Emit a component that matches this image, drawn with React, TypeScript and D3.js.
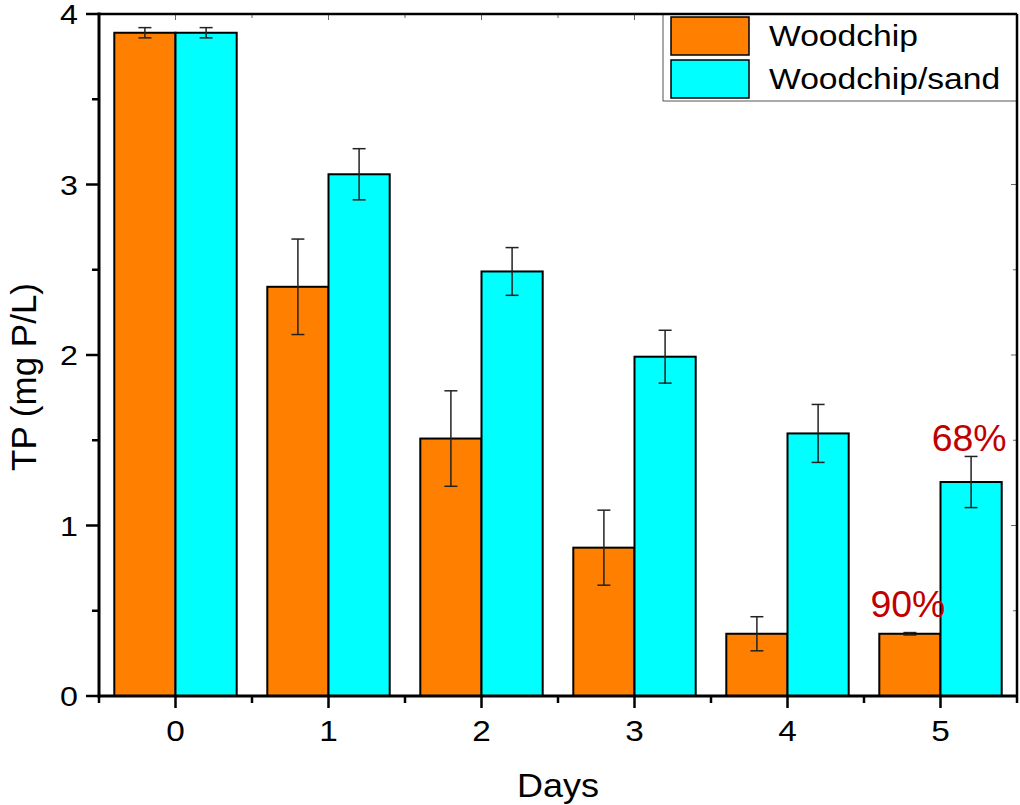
import React from "react";
import * as d3 from "d3";

// data
const days = [0, 1, 2, 3, 4, 5];
const woodchip = [3.89, 2.4, 1.51, 0.87, 0.365, 0.365];
const woodchipErr = [0.03, 0.28, 0.28, 0.22, 0.1, 0.007];
const woodchipSand = [3.89, 3.06, 2.49, 1.99, 1.54, 1.255];
const woodchipSandErr = [0.03, 0.15, 0.14, 0.155, 0.17, 0.15];
const yTicks = [0, 1, 2, 3, 4];
// removal labels, placed in data units above day 5
const annotations = [
  { day: 5, series: 0, value: 0.463, text: "90%" },
  { day: 5, series: 1, value: 1.437, text: "68%" },
];

const series = [
  { name: "Woodchip", values: woodchip, err: woodchipErr, color: "#ff8000" },
  { name: "Woodchip/sand", values: woodchipSand, err: woodchipSandErr, color: "#00ffff" },
];

const width = 1020;
const height = 805;
const margin = { top: 14, right: 3, bottom: 109, left: 99 };
const font = "Arial, 'Liberation Sans', Helvetica, sans-serif";

// text slightly stretched sideways, like the original export
const T = ({ x, y, size, sx = 1, anchor = "start", fill = "#000", dy = 0, children }: any) => (
  <text
    transform={`translate(${x},${y}) scale(${sx},1)`}
    dy={dy}
    fontSize={size}
    textAnchor={anchor}
    fill={fill}
  >
    {children}
  </text>
);

export default function App() {
  const x = d3
    .scaleLinear()
    .domain([-0.5, 5.5])
    .range([margin.left, width - margin.right]);
  const y = d3
    .scaleLinear()
    .domain([0, 4])
    .range([height - margin.bottom, margin.top]);

  const barW = x(0.4) - x(0);
  const x0 = margin.left;
  const x1 = width - margin.right;
  const y0 = height - margin.bottom;
  const y1 = margin.top;

  const xMinor = d3.range(-0.5, 5.6, 1);
  const yMinor = d3.range(0.5, 4, 1);
  const barCenter = (si: number, d: number) =>
    si === 0 ? x(d) - barW / 2 : x(d) + barW / 2;

  return (
    <svg
      width={width}
      height={height}
      style={{ position: "absolute", left: 0, top: 0, background: "#fff" }}
      fontFamily={font}
    >
      {/* bars */}
      {series.map((s, si) =>
        days.map((d, i) => (
          <rect
            key={`${si}-${d}`}
            x={si === 0 ? x(d) - barW : x(d)}
            y={y(s.values[i])}
            width={barW}
            height={y(0) - y(s.values[i])}
            fill={s.color}
            stroke="#000"
            strokeWidth={2}
          />
        ))
      )}

      {/* error bars */}
      {series.map((s, si) =>
        days.map((d, i) => {
          const cx = barCenter(si, d);
          const hi = y(s.values[i] + s.err[i]);
          const lo = y(s.values[i] - s.err[i]);
          return (
            <g key={`e${si}-${d}`} stroke="#222" strokeWidth={1.5}>
              <line x1={cx} x2={cx} y1={hi} y2={lo} />
              <line x1={cx - 6.5} x2={cx + 6.5} y1={hi} y2={hi} />
              <line x1={cx - 6.5} x2={cx + 6.5} y1={lo} y2={lo} />
            </g>
          );
        })
      )}

      {/* annotations */}
      {annotations.map((a) => (
        <T
          key={a.text}
          x={barCenter(a.series, a.day) - 2}
          y={y(a.value)}
          size={36}
          sx={1.04}
          anchor="middle"
          fill="#c00000"
        >
          {a.text}
        </T>
      ))}

      {/* y ticks */}
      {yTicks.map((t) => (
        <g key={`y${t}`}>
          <line x1={x0 - 13} x2={x0} y1={y(t)} y2={y(t)} stroke="#000" strokeWidth={2.5} />
          <line x1={x1 - 6} x2={x1} y1={y(t)} y2={y(t)} stroke="#666" strokeWidth={1} />
          <T x={x0 - 21} y={y(t)} dy="0.36em" size={28} sx={1.15} anchor="end">
            {t}
          </T>
        </g>
      ))}
      {yMinor.map((t) => (
        <g key={`ym${t}`}>
          <line x1={x0 - 7} x2={x0} y1={y(t)} y2={y(t)} stroke="#000" strokeWidth={2.5} />
          <line x1={x1 - 4} x2={x1} y1={y(t)} y2={y(t)} stroke="#666" strokeWidth={1} />
        </g>
      ))}

      {/* x ticks */}
      {days.map((d) => (
        <g key={`x${d}`}>
          <line x1={x(d)} x2={x(d)} y1={y0} y2={y0 + 12} stroke="#000" strokeWidth={2.5} />
          <line x1={x(d)} x2={x(d)} y1={y1} y2={y1 + 6} stroke="#666" strokeWidth={1} />
          <T x={x(d)} y={y0 + 45} size={29} sx={1.15} anchor="middle">
            {d}
          </T>
        </g>
      ))}
      {xMinor.map((t) => (
        <g key={`xm${t}`}>
          <line x1={x(t)} x2={x(t)} y1={y0} y2={y0 + 7} stroke="#000" strokeWidth={2.5} />
          <line x1={x(t)} x2={x(t)} y1={y1} y2={y1 + 4} stroke="#666" strokeWidth={1} />
        </g>
      ))}

      {/* axis titles */}
      <T x={558} y={797} size={34} sx={1.06} anchor="middle">
        Days
      </T>
      <text
        transform={`translate(36, ${(y0 + y1) / 2 + 22}) rotate(-90)`}
        textAnchor="middle"
        fontSize={35}
      >
        TP (mg P/L)
      </text>

      {/* legend */}
      <rect x={663} y={y1} width={x1 - 663} height={87} fill="#fff" stroke="#555" strokeWidth={1} />
      {series.map((s, i) => (
        <g key={s.name} transform={`translate(671, ${17 + i * 43})`}>
          <rect width={78} height={38} fill={s.color} stroke="#000" strokeWidth={1.5} />
          <T x={98} y={29} size={29} sx={1.16}>
            {s.name}
          </T>
        </g>
      ))}

      {/* frame */}
      <line x1={x0} x2={x1} y1={y1} y2={y1} stroke="#000" strokeWidth={2.5} />
      <line x1={x1} x2={x1} y1={y1} y2={y0} stroke="#000" strokeWidth={2.5} />
      <line x1={x0} x2={x0} y1={y1 - 1.5} y2={y0 + 1.5} stroke="#000" strokeWidth={3} />
      <line x1={x0 - 1.5} x2={x1 + 1} y1={y0} y2={y0} stroke="#000" strokeWidth={3} />
    </svg>
  );
}
